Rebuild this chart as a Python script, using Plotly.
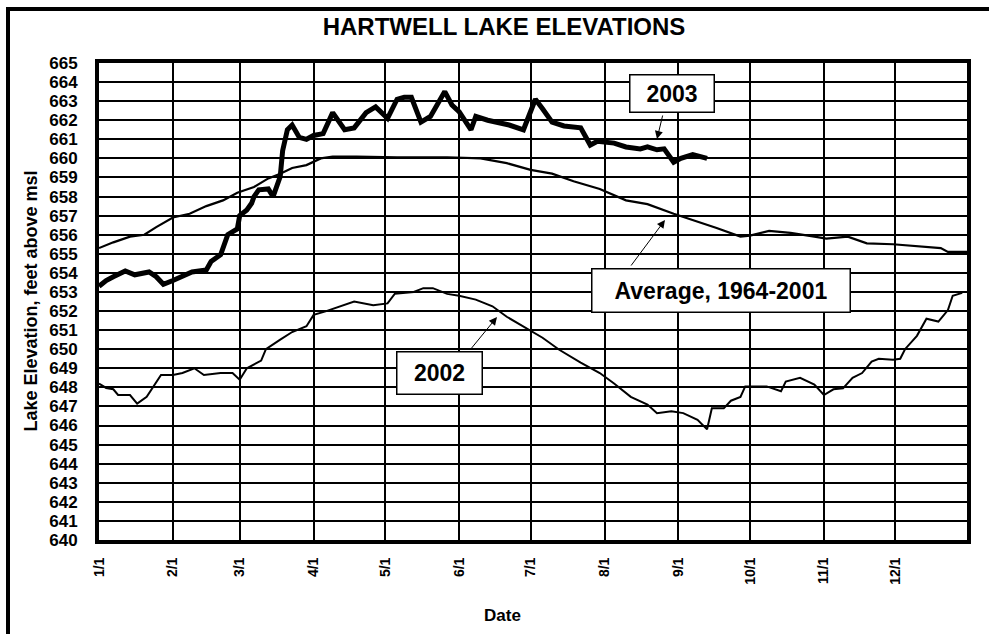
import datetime as dt
import plotly.graph_objects as go

# ---- data (day of year, 0 = Jan 1) ----
days_2003 = [0, 3, 6, 11, 15, 21, 24, 27, 31, 37, 39, 45, 47, 51, 53, 54, 58, 59, 62, 64, 65, 67, 71, 73,
             76, 77, 79, 81, 84, 87, 90, 94, 98, 100, 103, 107, 112, 116, 121, 125, 128, 131, 135, 139,
             145, 148, 151, 156, 158, 163, 167, 172, 178, 183, 186, 190, 195, 202, 206, 209, 216, 221,
             227, 230, 234, 237, 241, 244, 249, 255]
elev_2003 = [653.3, 653.6, 653.8, 654.1, 653.9, 654.05, 653.8, 653.4, 653.6, 653.9, 654.05, 654.15, 654.6,
             654.95, 655.55, 656.0, 656.3, 657.0, 657.3, 657.65, 658.0, 658.35, 658.4, 658.0,
             659.05, 660.4, 661.5, 661.75, 661.1, 661.0, 661.2, 661.3, 662.4, 662.0, 661.5, 661.6,
             662.4, 662.7, 662.1, 663.1, 663.2, 663.2, 661.9, 662.2, 663.5, 662.8, 662.45, 661.5,
             662.2, 662.0, 661.9, 661.75, 661.5, 663.1, 662.6, 661.9, 661.7, 661.6, 660.7, 660.9,
             660.8, 660.6, 660.5, 660.6, 660.45, 660.5, 659.8, 660.0, 660.2, 660.0]

days_avg = [0, 6, 13, 19, 24, 31, 38, 45, 52, 58, 65, 71, 76, 81, 87, 93, 98, 108, 125, 146, 160, 171,
            181, 190, 199, 210, 221, 230, 241, 251, 259, 269, 273, 281, 290, 300, 305, 314, 322, 333,
            344, 353, 356, 362, 364]
elev_avg = [655.3, 655.6, 655.9, 656.0, 656.4, 656.9, 657.1, 657.5, 657.8, 658.2, 658.5, 658.95, 659.2,
            659.5, 659.65, 660.0, 660.1, 660.1, 660.06, 660.06, 660.0, 659.75, 659.4, 659.2, 658.8,
            658.4, 657.8, 657.6, 657.1, 656.7, 656.35, 655.9, 655.95, 656.2, 656.1, 655.9, 655.8,
            655.9, 655.55, 655.5, 655.4, 655.3, 655.1, 655.1, 655.1]

days_2002 = [0, 3, 6, 8, 13, 16, 20, 23, 26, 31, 35, 40, 44, 51, 56, 59, 62, 68, 70, 76, 81, 87, 90, 95,
             102, 107, 115, 121, 124, 132, 136, 140, 146, 151, 158, 165, 171, 179, 186, 193, 202, 210,
             216, 223, 230, 234, 240, 245, 251, 255, 257, 262, 265, 269, 271, 280, 286, 288, 294, 300,
             304, 308, 312, 316, 320, 324, 327, 333, 336, 338, 343, 347, 352, 356, 358, 362]
elev_2002 = [648.2, 647.97, 647.9, 647.6, 647.6, 647.15, 647.5, 648.1, 648.65, 648.65, 648.75, 649.0,
             648.65, 648.75, 648.75, 648.4, 649.0, 649.4, 650.0, 650.5, 650.9, 651.2, 651.8, 651.98,
             652.3, 652.5, 652.3, 652.4, 652.9, 653.0, 653.2, 653.2, 652.9, 652.8, 652.6, 652.25,
             651.7, 651.1, 650.6, 649.97, 649.3, 648.75, 648.2, 647.5, 647.1, 646.65, 646.75, 646.65,
             646.3, 645.8, 646.9, 646.9, 647.3, 647.5, 648.05, 648.05, 647.8, 648.3, 648.5, 648.15,
             647.6, 647.9, 647.95, 648.5, 648.75, 649.35, 649.5, 649.45, 649.5, 650.0, 650.7, 651.6,
             651.45, 652.05, 652.8, 652.95]

month_labels = ["1/1", "2/1", "3/1", "4/1", "5/1", "6/1", "7/1", "8/1", "9/1", "10/1", "11/1", "12/1"]
y_ticks = list(range(640, 666))

month_pos = [(dt.date(2001, m, 1) - dt.date(2001, 1, 1)).days for m in range(1, 13)]

FONT = "Liberation Sans, Arial, sans-serif"

fig = go.Figure()
fig.add_trace(go.Scatter(x=days_avg, y=elev_avg, mode="lines", name="Average, 1964-2001",
                         line=dict(color="black", width=2.2)))
fig.add_trace(go.Scatter(x=days_2002, y=elev_2002, mode="lines", name="2002",
                         line=dict(color="black", width=2)))
fig.add_trace(go.Scatter(x=days_2003, y=elev_2003, mode="lines", name="2003",
                         line=dict(color="black", width=5)))

W, H = 989, 634
L, R, T, B = 99, 22, 63, 94
pw, ph = W - L - R, H - T - B


def px_x(x):
    return (x - L) / pw


def px_y(y):
    return (H - B - y) / ph


fig.update_layout(
    width=W, height=H,
    margin=dict(l=L, r=R, t=T, b=B, pad=0),
    paper_bgcolor="white", plot_bgcolor="white",
    showlegend=False,
    font=dict(family=FONT, color="black"),
    title=dict(text="<b>HARTWELL LAKE ELEVATIONS</b>", x=504 / W, xanchor="center",
               y=1 - 27 / H, yanchor="middle", font=dict(size=24, family=FONT, color="black")),
)
fig.update_xaxes(range=[0, 364], tickvals=month_pos, ticktext=[f"<b>{t}</b>" for t in month_labels],
                 tickangle=-90, tickfont=dict(size=14, family=FONT, color="black"),
                 showgrid=True, gridcolor="black", gridwidth=1.5,
                 showline=True, linecolor="black", linewidth=4, mirror=True,
                 ticks="", ticklabelstandoff=8, zeroline=False)
fig.update_yaxes(range=[640, 665], tickvals=y_ticks, ticktext=[f"<b>{v}</b>" for v in y_ticks],
                 tickfont=dict(size=17, family=FONT, color="black"),
                 showgrid=True, gridcolor="black", gridwidth=1.5,
                 showline=True, linecolor="black", linewidth=4, mirror=True,
                 ticks="", ticklabelstandoff=14, zeroline=False)

# axis titles
fig.add_annotation(text="<b>Lake Elevation, feet above msl</b>", xref="paper", yref="paper",
                   x=px_x(30), y=0.5, xanchor="center", yanchor="middle", textangle=-90,
                   showarrow=False, font=dict(size=18, family=FONT, color="black"))
fig.add_annotation(text="<b>Date</b>", xref="paper", yref="paper",
                   x=px_x(502), y=px_y(615), xanchor="center", yanchor="middle", showarrow=False,
                   font=dict(size=17, family=FONT, color="black"))


# series label boxes
def box(text, cx, cy, w, h):
    fig.add_annotation(text=f"<b>{text}</b>", xref="paper", yref="paper",
                       x=px_x(cx), y=px_y(cy), xanchor="center", yanchor="middle",
                       width=w - 4, height=h - 4, showarrow=False, bgcolor="white",
                       bordercolor="black", borderwidth=1.5, borderpad=0,
                       font=dict(size=23, family=FONT, color="black"))


def arrow(hx, hy, tx, ty):
    fig.add_annotation(text="", xref="paper", yref="paper", x=px_x(hx), y=px_y(hy),
                       ax=tx - hx, ay=ty - hy, showarrow=True, arrowhead=2, arrowsize=1.6,
                       arrowwidth=1, arrowcolor="black", standoff=0, startstandoff=0)


box("2003", 671.5, 93, 87, 40)
box("Average, 1964-2001", 720.5, 290, 261, 46)
box("2002", 439, 372.5, 88, 45)
arrow(657, 139, 663, 114)
arrow(665, 220, 630, 267)
arrow(497, 317, 470, 350)

# outer frame (top and left edges)
fig.add_shape(type="line", xref="paper", yref="paper", x0=px_x(8), x1=px_x(1000), y0=px_y(9), y1=px_y(9),
              line=dict(color="black", width=4))
fig.add_shape(type="line", xref="paper", yref="paper", x0=px_x(8), x1=px_x(8), y0=px_y(7), y1=px_y(700),
              line=dict(color="black", width=4))

fig.write_html("out.html", config={"displayModeBar": False},
               post_script="document.body.style.margin='0';")
